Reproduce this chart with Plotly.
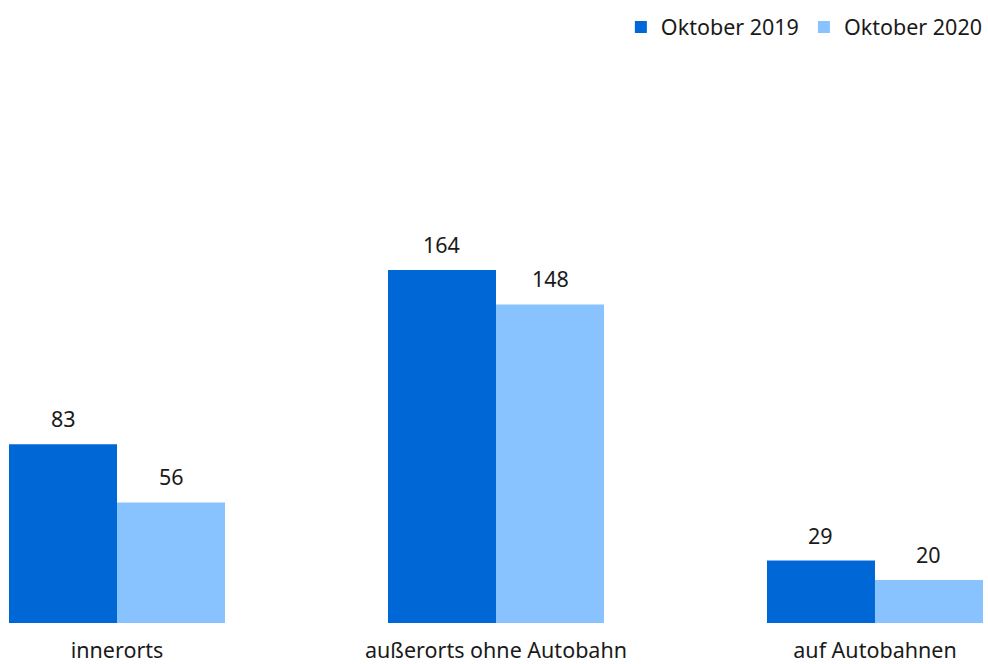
import plotly.graph_objects as go

categories = ["innerorts", "außerorts ohne Autobahn", "auf Autobahnen"]
series_names = ["Oktober 2019", "Oktober 2020"]
values_2019 = [83, 164, 29]
values_2020 = [56, 148, 20]
colors = ["#0068D6", "#88C2FF"]

FONT = "Noto Sans"
FS = 21.5
fig = go.Figure()
for name, vals, col in zip(series_names, [values_2019, values_2020], colors):
    fig.add_trace(go.Bar(x=categories, y=vals, name=name, marker=dict(color=col, line=dict(width=0))))

# value labels as annotations above bars
offsets = [-0.1425, 0.1425]
for off, vals in zip(offsets, [values_2019, values_2020]):
    for i, v in enumerate(vals):
        fig.add_annotation(x=i + off, y=v, text=str(v), showarrow=False,
                           yanchor="bottom", yshift=9, xref="x", yref="y",
                           font=dict(family=FONT, size=FS, color="#1a1a1a"))

fig.update_layout(
    width=988, height=664,
    margin=dict(l=9, r=5, t=60, b=41, autoexpand=False),
    paper_bgcolor="white", plot_bgcolor="white",
    barmode="group", bargap=0.43, bargroupgap=0,
    font=dict(family=FONT, size=FS, color="#1a1a1a"),
    legend=dict(orientation="h", x=1.005, xanchor="right", y=1.095, yanchor="top",
                font=dict(family=FONT, size=FS, color="#1a1a1a"),
                itemwidth=30, traceorder="normal", bgcolor="rgba(0,0,0,0)"),
    xaxis=dict(range=[-0.285, 2.285], showline=False, showgrid=False, zeroline=False,
               ticks="", ticklabelstandoff=12, tickfont=dict(family=FONT, size=FS, color="#1a1a1a"),
               automargin=False),
    yaxis=dict(range=[0, 261.6], visible=False, showgrid=False, zeroline=False),
    showlegend=True,
)
fig.write_html("out.html")
